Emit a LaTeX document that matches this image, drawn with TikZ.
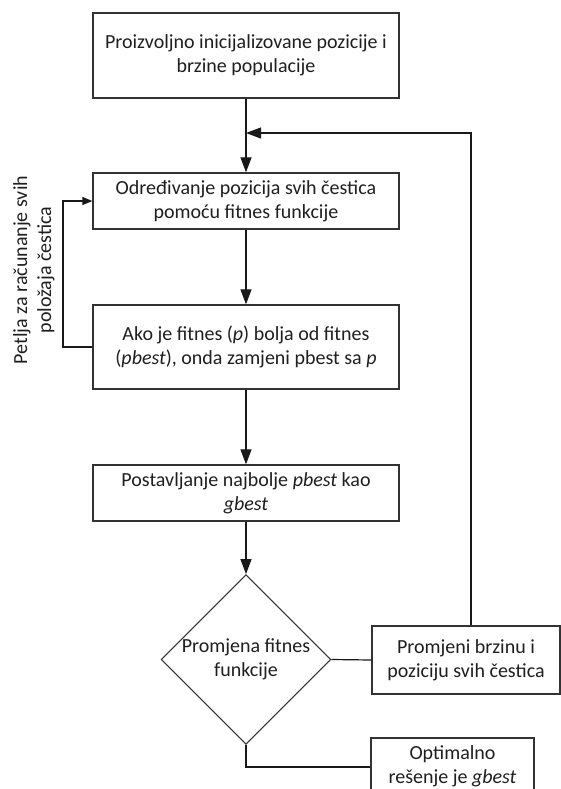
\documentclass[tikz,border=0pt]{standalone}
\usepackage{fontspec}
\setmainfont{Carlito}
\usetikzlibrary{arrows.meta,shapes.geometric}
\begin{document}
\begin{tikzpicture}[x=1pt,y=-1pt,
  every node/.style={font=\fontsize{20}{24}\selectfont, text=black!88},
  box/.style={draw=black!80, line width=1.3pt, rectangle, inner sep=0pt, align=center, minimum width=306pt},
  dec/.style={draw=black!80, line width=1.1pt, diamond, inner sep=0pt, align=center, minimum width=164pt, minimum height=160pt},
  conn/.style={draw=black!90, line width=1.2pt},
  arr/.style={conn, -{Triangle[length=15pt,width=11pt]}},
  smallarr/.style={conn, -{Triangle[length=10pt,width=8pt]}}
]
\useasboundingbox (0,0) rectangle (561,789);
\clip (0,0) rectangle (561,789);
\fill[white] (0,0) rectangle (561,789);

\node[box, minimum height=85pt] (b1) at (246,55.5) {Proizvoljno inicijalizovane pozicije i\\brzine populacije};
\node[box, minimum height=56pt] (b2) at (246,201) {Određivanje pozicija svih čestica\\pomoću fitnes funkcije};
\node[box, minimum height=84pt] (b3) at (246,347) {Ako je fitnes (\textit{p}) bolja od fitnes\\(\textit{pbest}), onda zamjeni pbest sa \textit{p}};
\node[box, minimum height=56pt] (b4) at (246,493) {Postavljanje najbolje \textit{pbest} kao\\\textit{gbest}};
\node[dec] (d) at (246,659.5) {Promjena fitnes\\funkcije};
\node[box, minimum width=188pt, minimum height=68pt] (b5) at (466,660) {Promjeni brzinu i\\poziciju svih čestica};
\node[box, minimum width=163pt, minimum height=56pt] (b6) at (452.5,766) {Optimalno\\rešenje je \textit{gbest}};
\node[rotate=90, align=center] (lbl) at (34,270) {Petlja za računanje svih\\položaja čestica};

\coordinate (fb) at (471,133);
\coordinate (lp) at (63,347);
\coordinate (bl) at (0,767);

\draw[arr] (b1.south) -- (b2.north);
\draw[arr] (b5.north -| fb) -- (fb) -- (fb -| b1.south);
\draw[arr] (b2.south) -- (b3.north);
\draw[smallarr] (b3.west) -- (lp) |- (b2.west);
\draw[arr] (b3.south) -- (b4.north);
\draw[arr] (b4.south) -- (d.north);
\draw[conn] (d.east) -- (b5.west);
\draw[conn] (d.south) |- (b6.west |- bl);
\end{tikzpicture}
\end{document}
